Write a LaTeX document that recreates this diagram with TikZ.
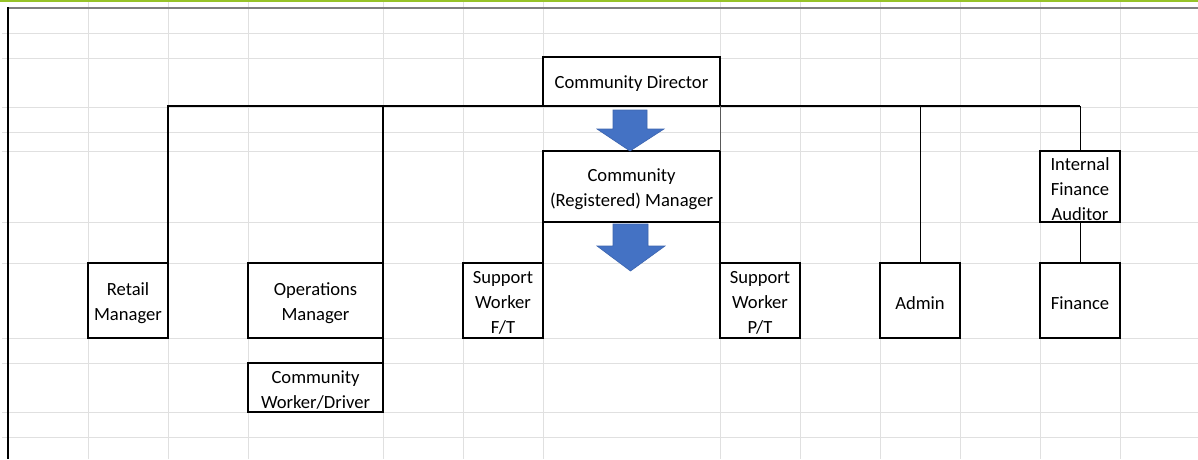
\documentclass[tikz,border=0pt]{standalone}
\usepackage{fontspec}
\setmainfont{Carlito}
\definecolor{gridgray}{RGB}{224,224,224}
\definecolor{xlgreen}{RGB}{150,195,40}
\definecolor{arrowblue}{RGB}{68,114,196}
\definecolor{arrowedge}{RGB}{60,100,175}
\begin{document}
\begin{tikzpicture}[x=1pt,y=-1pt,
  gridline/.style={draw=gridgray,line width=1pt},
  box/.style={draw=black,line width=2pt,fill=white,inner sep=0pt,outer sep=0pt},
  boxtext/.style={align=center,inner sep=0pt,yshift=-2.5pt,
    font=\fontsize{18.6}{24.8}\selectfont},
  thickline/.style={draw=black,line width=2.8pt},
  medline/.style={draw=black,line width=2pt},
  thinline/.style={draw=black,line width=1pt},
  blockarrow/.style={fill=arrowblue,draw=arrowedge,line width=0.6pt,line join=miter}
]
\useasboundingbox (0,0) rectangle (1198,459);
% sheet background
\fill[white] (0,0) rectangle (1198,459);
% grid
\foreach \yy in {33,58,107,132,151,222,263,338,363,412,437}
  \draw[gridline] (2,\yy) -- (1198,\yy);
\foreach \xx in {88,168,248,383,463,543,720,800,880,960,1040,1120}
  \draw[gridline] (\xx,0) -- (\xx,459);
% top green line and sheet borders
\fill[xlgreen] (0,0) rectangle (1198,1.6);
\draw[draw=gray,line width=2.4pt] (7,8) -- (1198,8);
\draw[draw=black,line width=2pt] (8,7) -- (8,459);

% boxes
\node[box,minimum width=177pt,minimum height=49pt,
  label={[boxtext]center:{Community Director}}] (director) at (631.5,81.5) {};
\node[box,minimum width=177pt,minimum height=71pt,
  label={[boxtext]center:{Community\\(Registered) Manager}}] (regmgr) at (631.5,186.5) {};
\node[box,minimum width=80pt,minimum height=71pt,
  label={[boxtext]center:{Internal\\Finance\\Auditor}}] (auditor) at (1080,186.5) {};
\node[box,minimum width=80pt,minimum height=75pt,
  label={[boxtext]center:{Retail\\Manager}}] (retail) at (128,300.5) {};
\node[box,minimum width=135pt,minimum height=75pt,
  label={[boxtext]center:{Operations\\Manager}}] (ops) at (315.5,300.5) {};
\node[box,minimum width=80pt,minimum height=75pt,
  label={[boxtext]center:{Support\\Worker\\F/T}}] (ftw) at (503,300.5) {};
\node[box,minimum width=80pt,minimum height=75pt,
  label={[boxtext]center:{Support\\Worker\\P/T}}] (ptw) at (760,300.5) {};
\node[box,minimum width=80pt,minimum height=75pt,
  label={[boxtext]center:{Admin}}] (admin) at (920,300.5) {};
\node[box,minimum width=80pt,minimum height=75pt,
  label={[boxtext]center:{Finance}}] (finance) at (1080,300.5) {};
\node[box,minimum width=135pt,minimum height=49pt,
  label={[boxtext]center:{Community\\Worker/Driver}}] (cwd) at (315.5,387.5) {};

% connectors
\coordinate (barL) at (retail.north east |- director.south);
\coordinate (barM) at (ops.north east |- director.south);
\coordinate (barR) at (auditor.north |- director.south);
\coordinate (barA) at (admin.north |- director.south);
\draw[thickline,line join=miter] (retail.north east) -- (barL) -- (barM) -- (ops.north east);
\draw[medline] (barM) -- (barR);
\draw[thinline] (barR) -- (auditor.north);
\draw[thinline] (barA) -- (admin.north);
\draw[thinline] (auditor.south) -- (finance.north);
\draw[draw=black!65,line width=1pt] (director.south east) -- (regmgr.north east);
\draw[medline,line width=2.5pt] (ops.south east) -- (cwd.north east);
\draw[medline,line width=2.5pt] (regmgr.south west) -- (ftw.north east);
\draw[medline,line width=2.5pt] (regmgr.south east) -- (ptw.north west);

% block arrows
\path[blockarrow] (613,110) -- (647,110) -- (647,129) -- (664,129) -- (630,151)
  -- (597,129) -- (613,129) -- cycle;
\path[blockarrow] (613,224) -- (648,224) -- (648,246) -- (665,246) -- (630.5,271)
  -- (597,246) -- (613,246) -- cycle;
\end{tikzpicture}
\end{document}
